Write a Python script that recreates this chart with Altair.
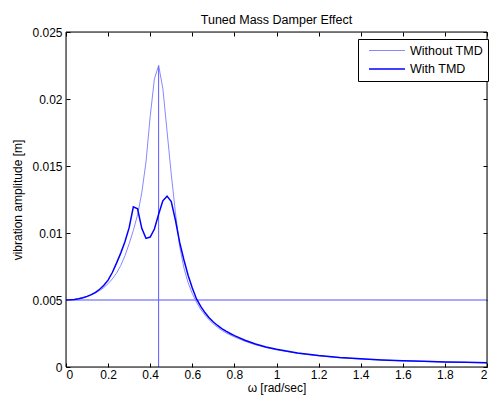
import altair as alt
import pandas as pd

FONT = "Liberation Sans"

# ---- data ----
omega = [0.00, 0.02, 0.04, 0.06, 0.08, 0.10, 0.12, 0.14, 0.16, 0.18,
         0.20, 0.22, 0.24, 0.26, 0.28, 0.30, 0.32, 0.34, 0.36, 0.38,
         0.40, 0.42, 0.44, 0.46, 0.48, 0.50, 0.52, 0.54, 0.56, 0.58,
         0.60, 0.62, 0.64, 0.66, 0.68, 0.70, 0.72, 0.74, 0.76, 0.78,
         0.80, 0.85, 0.90, 0.95, 1.00, 1.10, 1.20, 1.30, 1.40, 1.50,
         1.60, 1.70, 1.80, 1.90, 2.00]

amp_without = [0.00500, 0.00501, 0.00504, 0.00509, 0.00516, 0.00525, 0.00537, 0.00552, 0.00570, 0.00593,
               0.00622, 0.00657, 0.00700, 0.00757, 0.00830, 0.00920, 0.01020, 0.01135, 0.01300, 0.01530,
               0.01870, 0.02150, 0.02250, 0.02080, 0.01760, 0.01440, 0.01150, 0.00900, 0.00740, 0.00630,
               0.00548, 0.00483, 0.00430, 0.00388, 0.00352, 0.00321, 0.00296, 0.00274, 0.00255, 0.00239,
               0.00224, 0.00192, 0.00166, 0.00145, 0.00128, 0.00102, 0.00083, 0.00069, 0.00059, 0.00052,
               0.00046, 0.00041, 0.00037, 0.00034, 0.00031]

amp_with = [0.00500, 0.00501, 0.00504, 0.00509, 0.00517, 0.00527, 0.00540, 0.00557, 0.00580, 0.00610,
            0.00648, 0.00705, 0.00775, 0.00850, 0.00935, 0.01040, 0.01195, 0.01180, 0.01035, 0.00960,
            0.00970, 0.01030, 0.01140, 0.01240, 0.01275, 0.01235, 0.01095, 0.00930, 0.00800, 0.00685,
            0.00590, 0.00508, 0.00452, 0.00406, 0.00368, 0.00336, 0.00310, 0.00287, 0.00267, 0.00250,
            0.00234, 0.00200, 0.00172, 0.00150, 0.00132, 0.00105, 0.00085, 0.00071, 0.00061, 0.00053,
            0.00047, 0.00042, 0.00038, 0.00035, 0.00032]

series_names = ["Without TMD", "With TMD"]
series_colors = ["#7a7aff", "#0000ff"]
series_widths = [0.9, 1.5]

static_level = [0.005]
resonance_omega = [0.44]
resonance_low = [0.0]
resonance_peak = [0.0225]

x_domain = [0, 2]
y_domain = [0, 0.025]
x_ticks = [0, 0.2, 0.4, 0.6, 0.8, 1.0, 1.2, 1.4, 1.6, 1.8, 2.0]
y_ticks = [0, 0.005, 0.01, 0.015, 0.02, 0.025]

rows = []
for w, a in zip(omega, amp_without):
    rows.append({"omega": w, "amp": a, "series": series_names[0]})
for w, a in zip(omega, amp_with):
    rows.append({"omega": w, "amp": a, "series": series_names[1]})
df = pd.DataFrame(rows)

hdf = pd.DataFrame({"level": static_level})
vdf = pd.DataFrame({"omega": resonance_omega, "lo": resonance_low, "hi": resonance_peak})
box = pd.DataFrame({"x0": [x_domain[0]], "x1": [x_domain[1]],
                    "y0": [y_domain[0]], "y1": [y_domain[1]]})

xscale = alt.Scale(domain=x_domain, nice=False, zero=False)
yscale = alt.Scale(domain=y_domain, nice=False, zero=False)

common = dict(domain=False, grid=False, ticks=True, tickSize=4, offset=-4,
              tickColor="black", tickWidth=1, labelColor="black",
              labelFont=FONT, labelFontSize=12, titleFont=FONT,
              titleFontSize=12, titleFontWeight="normal", titleColor="black")

x_bottom = alt.Axis(orient="bottom", values=x_ticks, format="~g", labelPadding=2,
                    titleBaseline="alphabetic", titleY=28, **common)
y_left = alt.Axis(orient="left", values=y_ticks, format="~g", labelPadding=4,
                  titlePadding=7, **common)
x_top = alt.Axis(orient="top", values=x_ticks, labels=False, **common)
y_right = alt.Axis(orient="right", values=y_ticks, labels=False, **common)

legend = alt.Legend(orient="none", legendX=292, legendY=7, title=None,
                    fillColor="white", strokeColor="black", padding=5,
                    symbolType="M-3,0H3", symbolSize=144, symbolOffset=17,
                    labelFont=FONT, labelFontSize=12.5, labelColor="black",
                    labelOffset=16, rowPadding=5)

frame = alt.Chart(df).mark_line(opacity=0).encode(
    x=alt.X("omega:Q", scale=xscale, axis=x_top, title=None),
    y=alt.Y("amp:Q", scale=yscale, axis=y_right, title=None),
)

hline = alt.Chart(hdf).mark_rule(color="#a8a8ff", strokeWidth=2).encode(
    y=alt.Y("level:Q", scale=yscale, axis=None),
)

vline = alt.Chart(vdf).mark_rule(color="#5a5aff", strokeWidth=1).encode(
    x=alt.X("omega:Q", scale=xscale, axis=None),
    y=alt.Y("lo:Q", scale=yscale, axis=None),
    y2="hi:Q",
)

lines = alt.Chart(df).mark_line().encode(
    x=alt.X("omega:Q", scale=xscale, axis=x_bottom, title="ω  [rad/sec]"),
    y=alt.Y("amp:Q", scale=yscale, axis=y_left, title="vibration amplitude [m]"),
    color=alt.Color("series:N", scale=alt.Scale(domain=series_names, range=series_colors),
                    legend=legend),
    strokeWidth=alt.StrokeWidth("series:N", scale=alt.Scale(domain=series_names, range=series_widths),
                                legend=legend),
)

border = alt.Chart(box).mark_rect(filled=False, stroke="black", strokeWidth=1).encode(
    x=alt.X("x0:Q", scale=xscale, axis=None),
    x2="x1:Q",
    y=alt.Y("y0:Q", scale=yscale, axis=None),
    y2="y1:Q",
)

chart = alt.layer(frame, hline, vline, lines, border).resolve_axis(
    x="independent", y="independent"
).properties(
    width=421,
    height=335,
    autosize=alt.AutoSizeParams(type="pad"),
    padding={"left": 3, "top": 5, "right": 0, "bottom": 4},
    title=alt.TitleParams("Tuned Mass Damper Effect", font=FONT, fontSize=12.5,
                          fontWeight="normal", color="black", anchor="middle",
                          offset=0),
).configure_view(
    stroke="black", strokeWidth=1
).configure_legend(
    labelFont=FONT, labelFontSize=12.5, labelColor="black"
).configure(background="white")

chart.save("out.html", embed_options={"renderer": "svg", "actions": False})
